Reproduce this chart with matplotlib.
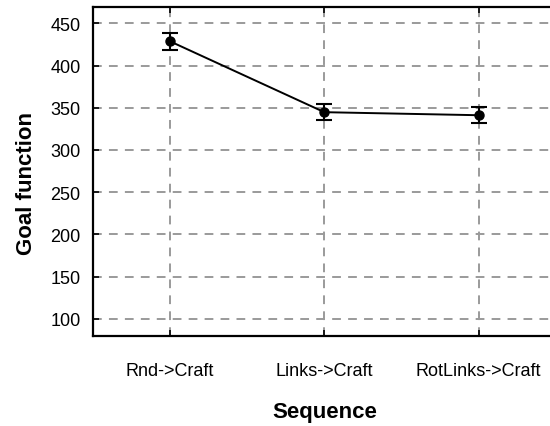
import matplotlib

matplotlib.use("Agg")

import matplotlib.pyplot as plt
import numpy as np

sequences = ["Rnd->Craft", "Links->Craft", "RotLinks->Craft"]
goal_mean = [428.7, 344.8, 341.2]
goal_err = [9.9, 9.3, 9.5]
y_ticks = [100, 150, 200, 250, 300, 350, 400, 450]

plt.rcParams["font.family"] = ["Liberation Sans", "DejaVu Sans"]

fig = plt.figure(figsize=(5.5, 4.27), dpi=100)
ax = fig.add_axes([93 / 550, 1 - 336.7 / 427, (555.6 - 93) / 550, (336.7 - 7.5) / 427])

x = np.arange(len(sequences))
ax.errorbar(
    x,
    goal_mean,
    yerr=goal_err,
    color="black",
    linewidth=1.4,
    elinewidth=1.5,
    capsize=5.5,
    capthick=1.5,
    marker="o",
    markersize=6.5,
    zorder=3,
)

ax.set_xlim(-0.5, 2.5)
ax.set_ylim(80, 470)
ax.set_xticks(x)
ax.set_xticklabels(sequences)
ax.set_yticks(y_ticks)

ax.grid(True, color="#9a9a9a", linestyle=(0, (4.5, 3.7)), linewidth=1.4, zorder=0)
ax.set_axisbelow(True)

for side in ["left", "top", "bottom"]:
    ax.spines[side].set_linewidth(1.6)
ax.spines["right"].set_visible(False)

ax.tick_params(axis="x", direction="in", length=4, width=1.2, top=True, pad=19, labelsize=13)
ax.tick_params(axis="y", direction="in", length=4, width=1.2, pad=9, labelsize=13)

ax.set_xlabel("Sequence", fontsize=16, fontweight="bold", labelpad=16)
ax.set_ylabel("Goal function", fontsize=16, fontweight="bold")
ax.yaxis.set_label_coords(-0.122, 0.464)

fig.savefig("out.png", dpi=100)
